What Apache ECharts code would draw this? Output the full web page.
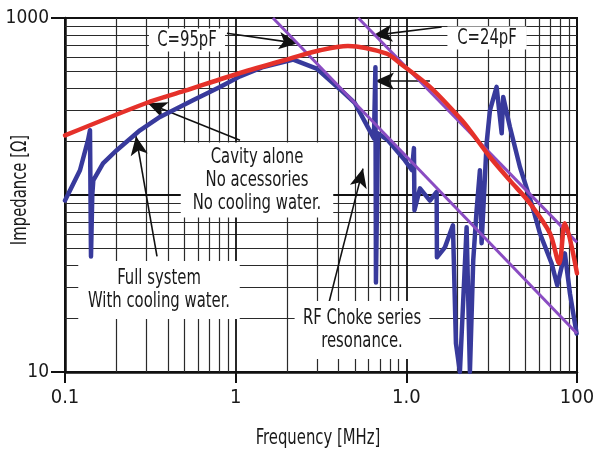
<!DOCTYPE html>
<html>
<head>
<meta charset="utf-8">
<script src="https://cdn.jsdelivr.net/npm/echarts@6/dist/echarts.min.js"></script>
<style>
  html, body { margin: 0; padding: 0; background: #fff; }
  #chart { width: 593px; height: 451px; }
</style>
</head>
<body>
<div id="chart"></div>
<script>
// full system with cooling water (blue)
const fullFreq = [0.1, 0.1224, 0.1364, 0.1401, 0.142, 0.1445, 0.1465, 0.167, 0.201, 0.275, 0.36, 0.562, 0.809, 1.06, 1.451, 2.175, 2.982, 4.083, 5.0, 5.957, 6.458, 6.59, 6.636, 6.817, 7.8, 9.81, 10.79, 11.08, 11.16, 12.02, 13.75, 15.05, 15.11, 16.83, 18.75, 19.53, 20.6, 22.55, 23.58, 24.66, 25.81, 26.99, 27.61, 29.54, 30.9, 33.8, 36.2, 36.96, 40.45, 46.3, 54.2, 60.6, 71.0, 76.6, 84.9, 90.9, 99.5]
const fullZ = [93, 138, 204, 232, 45, 100, 121, 151, 179, 232, 276, 343, 408, 468, 529, 582, 518, 396, 330, 241, 209, 527, 32, 223, 204, 157, 138, 184, 82, 109, 93, 104, 44.5, 50.6, 67.4, 14.5, 10, 65.7, 10, 42.8, 81.9, 138, 53.4, 196, 301, 408, 223, 358, 242, 144, 89.4, 60.8, 41.1, 30.9, 46.8, 27.8, 16.5]

// cavity alone (red)
const cavityFreq = [0.1, 0.3, 0.5, 1.06, 2.08, 3.12, 4.55, 7.67, 9.17, 13.75, 20.6, 23.6, 30.9, 40.45, 53.0, 69.4, 78.6, 84.9, 100]
const cavityZ = [217, 331, 387, 489, 590, 657, 695, 629, 555, 408, 272, 232, 164, 121, 89.8, 60.8, 41.1, 69.2, 36.1]

// capacitor lines (purple)
const c95Freq = [1.654, 100]
const c95Z = [1000, 16.5]
const c24Freq = [5.23, 100]
const c24Z = [1000, 54]

// axes
const xTickValues = [0.1, 1, 10, 100]
const xTickLabels = ['0.1', '1', '1.0', '100']
const yTickValues = [10, 1000]
const yTickLabels = ['10', '1000']
const xMinorGrid = [0.2, 0.3, 0.4, 0.5, 0.6, 0.7, 0.8, 0.9, 2, 3, 4, 5, 6, 7, 8, 9, 20, 30, 40, 50, 60, 70, 80, 90]
const xMajorGrid = [1, 10]
const yMinorGrid = [20, 30, 40, 50, 60, 70, 80, 90, 200, 300, 400, 500, 600, 700, 800, 900]
const yMajorGrid = [100]

// arrows [from, to] in data coords
const arrows = [
  [[0.889, 820], [2.317, 719]],
  [[16.1, 889], [6.40, 798]],
  [[13.75, 440], [6.55, 440]],
  [[1.06, 204], [0.306, 330]],
  [[0.346, 45], [0.2606, 215]],
  [[3.53, 24.9], [5.57, 141]]
]

const FONT = '"DejaVu Sans Condensed", "Liberation Sans Narrow", sans-serif'
const SQUEEZE = 0.75

const zip = (a, b) => a.map((v, i) => [v, b[i]])

const chart = echarts.init(document.getElementById('chart'), null, { renderer: 'canvas' })

const gridLines = []
xMinorGrid.forEach(v => gridLines.push({ xAxis: v }))
yMinorGrid.forEach(v => gridLines.push({ yAxis: v }))
xMajorGrid.forEach(v => gridLines.push({ xAxis: v, lineStyle: { width: 1.8, color: '#111' } }))
yMajorGrid.forEach(v => gridLines.push({ yAxis: v, lineStyle: { width: 1.8, color: '#111' } }))

// condensed text, white box behind it
const labelText = (text, x, y, padding, bg, rot) => ({
  type: 'text',
  x: x,
  y: y,
  z: 50,
  scaleX: SQUEEZE,
  rotation: rot || 0,
  style: {
    text: text,
    font: '22px ' + FONT,
    fill: '#1a1a1a',
    align: 'center',
    verticalAlign: 'middle',
    textAlign: 'center',
    textVerticalAlign: 'middle',
    lineHeight: 23,
    backgroundColor: bg === false ? null : '#fff',
    padding: padding
  }
})

const option = {
  animation: false,
  backgroundColor: '#fff',
  grid: {
    left: 65, right: 16, top: 18, bottom: 79,
    containLabel: false, outerBoundsMode: 'none',
    show: true, borderColor: '#111', borderWidth: 2, backgroundColor: 'transparent'
  },
  xAxis: {
    type: 'log', logBase: 10, min: 0.1, max: 100,
    axisLine: { show: true, lineStyle: { color: '#111', width: 2.5 } },
    axisTick: { show: true, length: 11, customValues: xTickValues, lineStyle: { color: '#111', width: 2 } },
    axisLabel: {
      customValues: xTickValues,
      margin: 16, fontFamily: FONT, fontSize: 20, color: '#1a1a1a',
      formatter: v => {
        const i = xTickValues.findIndex(t => Math.abs(Math.log10(t) - Math.log10(v)) < 1e-6)
        return i >= 0 ? xTickLabels[i] : ''
      }
    },
    splitLine: { show: false }
  },
  yAxis: {
    type: 'log', logBase: 10, min: 10, max: 1000,
    axisLine: { show: true, lineStyle: { color: '#111', width: 2.5 } },
    axisTick: { show: true, length: 14, customValues: yTickValues, lineStyle: { color: '#111', width: 2 } },
    axisLabel: {
      customValues: yTickValues,
      margin: 16, fontFamily: FONT, fontSize: 19, color: '#1a1a1a',
      formatter: v => {
        const i = yTickValues.findIndex(t => Math.abs(Math.log10(t) - Math.log10(v)) < 1e-6)
        return i >= 0 ? yTickLabels[i] : ''
      }
    },
    splitLine: { show: false }
  },
  series: [
    {
      // grid lines
      type: 'line', data: [], z: 1, silent: true,
      markLine: {
        silent: true, symbol: ['none', 'none'], animation: false,
        label: { show: false },
        lineStyle: { type: 'solid', color: '#2a2a2a', width: 1.2 },
        data: gridLines
      }
    },
    {
      name: 'Full system', type: 'line', z: 10,
      data: zip(fullFreq, fullZ),
      showSymbol: false, clip: true,
      lineStyle: { color: '#383a9c', width: 4.5, join: 'round', cap: 'round' }
    },
    {
      name: 'C=95pF', type: 'line', z: 11,
      data: zip(c95Freq, c95Z), showSymbol: false,
      lineStyle: { color: '#8a4cc2', width: 3 }
    },
    {
      name: 'C=24pF', type: 'line', z: 11,
      data: zip(c24Freq, c24Z), showSymbol: false,
      lineStyle: { color: '#8a4cc2', width: 3 }
    },
    {
      name: 'Cavity alone', type: 'line', z: 12,
      data: zip(cavityFreq, cavityZ), showSymbol: false, smooth: 0.3,
      lineStyle: { color: '#e5312a', width: 4.5, cap: 'round' }
    },
    {
      // arrows
      type: 'line', data: [], z: 60, silent: true,
      markLine: {
        silent: true, symbol: ['none', 'arrow'], symbolSize: [13, 19], animation: false,
        label: { show: false },
        lineStyle: { type: 'solid', color: '#111', width: 1.6 },
        itemStyle: { color: '#111' },
        data: arrows.map(a => [{ coord: a[0] }, { coord: a[1] }])
      }
    }
  ],
  graphic: [
    labelText('C=95pF', 187, 40, [0, 11, 0, 11]),
    labelText('C=24pF', 487, 38, [0, 13, 0, 13]),
    labelText('Cavity alone\nNo acessories\nNo cooling water.', 257, 180, [3, 16, 3, 16]),
    labelText('Full system\nWith cooling water.', 159, 290, [6, 13, 6, 13]),
    labelText('RF Choke series\nresonance.', 362, 330, [7, 11, 5, 11]),
    labelText('Frequency [MHz]', 318, 438, 0, false),
    labelText('Impedance [Ω]', 20, 190, 0, false, Math.PI / 2)
  ]
}

chart.setOption(option)
</script>
</body>
</html>
